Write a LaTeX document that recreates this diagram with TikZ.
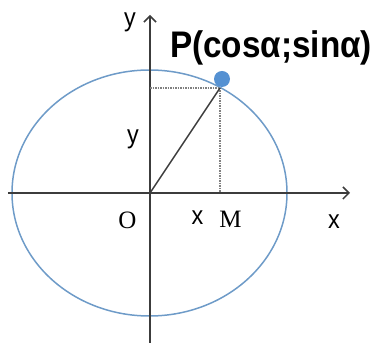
\documentclass[tikz,border=0pt]{standalone}
\usepackage{fontspec}
\setsansfont{Liberation Sans}
\newfontfamily\labelserif{Liberation Serif}
\usetikzlibrary{arrows.meta}
\definecolor{ringblue}{RGB}{110,155,200}
\definecolor{dotblue}{RGB}{85,145,210}
\definecolor{axisgray}{RGB}{60,60,60}
\newcommand{\squeeze}[1]{\scalebox{0.9}[1]{#1}}

\begin{document}
\begin{tikzpicture}[x=1pt, y=1pt,
    axis/.style={draw=axisgray, line width=1.6pt, -{Straight Barb[length=6pt,width=12pt,line width=1.5pt]}},
    ring/.style={draw=ringblue, line width=1.5pt},
    guide/.style={draw=gray, line width=1.3pt, dash pattern=on 1.5pt off 1pt},
    spoke/.style={draw=axisgray, line width=1.5pt},
    sanslabel/.style={font=\sffamily\fontsize{26}{28}\selectfont, inner sep=0pt},
    seriflabel/.style={font=\labelserif\fontsize{25}{27}\selectfont, inner sep=0pt}
]
    \useasboundingbox (0,0) rectangle (376,345);

    % unit circle (squashed as in the picture)
    \draw [ring] (149.5,152) ellipse [x radius=137.5, y radius=123];

    % axes
    \coordinate (origin) at (150,152);
    \coordinate (xstart) at (8,152);
    \coordinate (xend) at (350,152);
    \coordinate (ystart) at (150,2);
    \coordinate (yend) at (150,330);
    \draw [axis] (xstart) -- (xend);
    \draw [axis] (ystart) -- (yend);

    % point P and its projections
    \coordinate (p) at (220,257);
    \coordinate (m) at (220,152);
    \coordinate (n) at (150,257);
    \draw [guide] (n) -- (p);
    \draw [guide] (p) -- (m);
    \draw [spoke] (origin) -- (p);
    \fill [dotblue] (222,266) circle [radius=8];

    % labels
    \node [sanslabel] (ytop) at (130,323) {\squeeze{y}};
    \node [sanslabel, font=\sffamily\bfseries\fontsize{37}{40}\selectfont] (plabel) at (271,297) {\squeeze{P(cosα;sinα)}};
    \node [sanslabel] (ymid) at (133,206) {\squeeze{y}};
    \node [seriflabel] (olabel) at (127.5,125) {O};
    \node [sanslabel] (xmid) at (197.5,127.5) {\squeeze{x}};
    \node [seriflabel] (mlabel) at (230.5,126) {M};
    \node [sanslabel] (xright) at (334,123.5) {\squeeze{x}};
\end{tikzpicture}
\end{document}
